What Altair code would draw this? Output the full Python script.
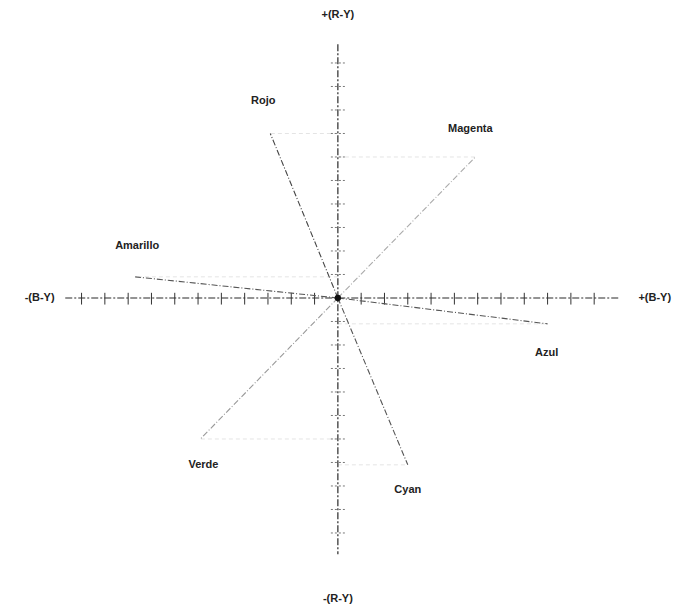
import altair as alt
import pandas as pd

# Color vectors (B-Y, R-Y), in tick units
names = ["Rojo", "Magenta", "Amarillo", "Azul", "Cyan", "Verde"]
by_vals = [-2.9, 5.9, -8.7, 9.0, 3.0, -5.9]
ry_vals = [7.0, 6.0, 0.9, -1.1, -7.1, -6.0]

# Axis tick positions
h_ticks = [i for i in range(-11, 12) if i != 0]
v_ticks = [i for i in range(-10, 11) if i != 0]

# Axis end labels
axis_names = ["+(R-Y)", "-(R-Y)", "-(B-Y)", "+(B-Y)"]
axis_x = [0.0, 0.0, -12.8, 13.6]
axis_y = [12.05, -12.8, 0.0, 0.0]

FONT = "Liberation Sans"
XS = alt.Scale(domain=[-14.5, 14.64], nice=False, zero=False)
YS = alt.Scale(domain=[-13.32, 12.68], nice=False, zero=False)

vec = pd.DataFrame({"name": names, "x": by_vals, "y": ry_vals,
                    "x0": [0.0] * 6, "y0": [0.0] * 6})
line_colors = {"Rojo": "#444444", "Magenta": "#aaaaaa", "Amarillo": "#555555",
               "Azul": "#555555", "Cyan": "#555555", "Verde": "#999999"}

def X(f):
    return alt.X(f, type="quantitative", scale=XS, axis=None)

def Y(f):
    return alt.Y(f, type="quantitative", scale=YS, axis=None)

# projection lines (faint)
proj = alt.Chart(vec).mark_rule(color="#e4e4e4", strokeDash=[4, 3], strokeWidth=1).encode(
    x=X("x0"), x2="x", y=Y("y")
)

# axes
hax = pd.DataFrame({"x": [-11.7], "x2": [12.1], "y": [0.0]})
vax = pd.DataFrame({"x": [0.0], "y": [10.8], "y2": [-10.9]})
h_axis = alt.Chart(hax).mark_rule(color="#2a2a2a", strokeWidth=1.1, strokeDash=[7, 2, 2, 2]).encode(
    x=X("x"), x2="x2", y=Y("y"))
v_axis = alt.Chart(vax).mark_rule(color="#2a2a2a", strokeWidth=1.2, strokeDash=[7, 2, 2, 2]).encode(
    x=X("x"), y=Y("y"), y2="y2")

ht = pd.DataFrame({"x": h_ticks, "y": [-0.28] * len(h_ticks), "y2": [0.22] * len(h_ticks)})
vt = pd.DataFrame({"y": v_ticks, "x": [-0.3] * len(v_ticks), "x2": [0.3] * len(v_ticks)})
h_tick = alt.Chart(ht).mark_rule(color="#333333", strokeWidth=1).encode(x=X("x"), y=Y("y"), y2="y2")
v_tick = alt.Chart(vt).mark_rule(color="#777777", strokeWidth=1, strokeDash=[2, 2]).encode(
    y=Y("y"), x=X("x"), x2="x2")

# vectors
vectors = alt.Chart(vec).mark_rule(strokeWidth=1.1, strokeDash=[6, 2, 1, 2]).encode(
    x=X("x0"), y=Y("y0"), x2="x", y2="y",
    color=alt.Color("name:N", legend=None,
                    scale=alt.Scale(domain=names, range=[line_colors[n] for n in names])))

origin = alt.Chart(pd.DataFrame({"x": [0.0], "y": [0.0]})).mark_circle(
    color="#111111", size=40, opacity=1).encode(x=X("x"), y=Y("y"))

offsets = {"Rojo": (-7, -32), "Magenta": (-5, -28), "Amarillo": (2, -31),
           "Azul": (-1, 29), "Cyan": (0, 25), "Verde": (3, 26)}
labels = []
for n in names:
    dx, dy = offsets[n]
    labels.append(
        alt.Chart(vec[vec["name"] == n]).mark_text(
            font=FONT, fontSize=11, fontWeight="bold", color="#222222",
            dx=dx, dy=dy, align="center", baseline="middle").encode(
            x=X("x"), y=Y("y"), text="name:N")
    )

ax_lab = alt.Chart(pd.DataFrame({"t": axis_names, "x": axis_x, "y": axis_y})).mark_text(
    font=FONT, fontSize=11, fontWeight="bold", color="#222222", align="center", baseline="middle"
).encode(x=X("x"), y=Y("y"), text="t:N")

chart = alt.layer(proj, h_axis, v_axis, h_tick, v_tick, vectors, origin, ax_lab, *labels).properties(
    width=679, height=611,
    autosize=alt.AutoSizeParams(type="fit", contains="padding"),
    padding=0,
    background="#ffffff",
).configure_view(stroke=None)

chart.save("out.html", embed_options={"renderer": "svg", "actions": False})
